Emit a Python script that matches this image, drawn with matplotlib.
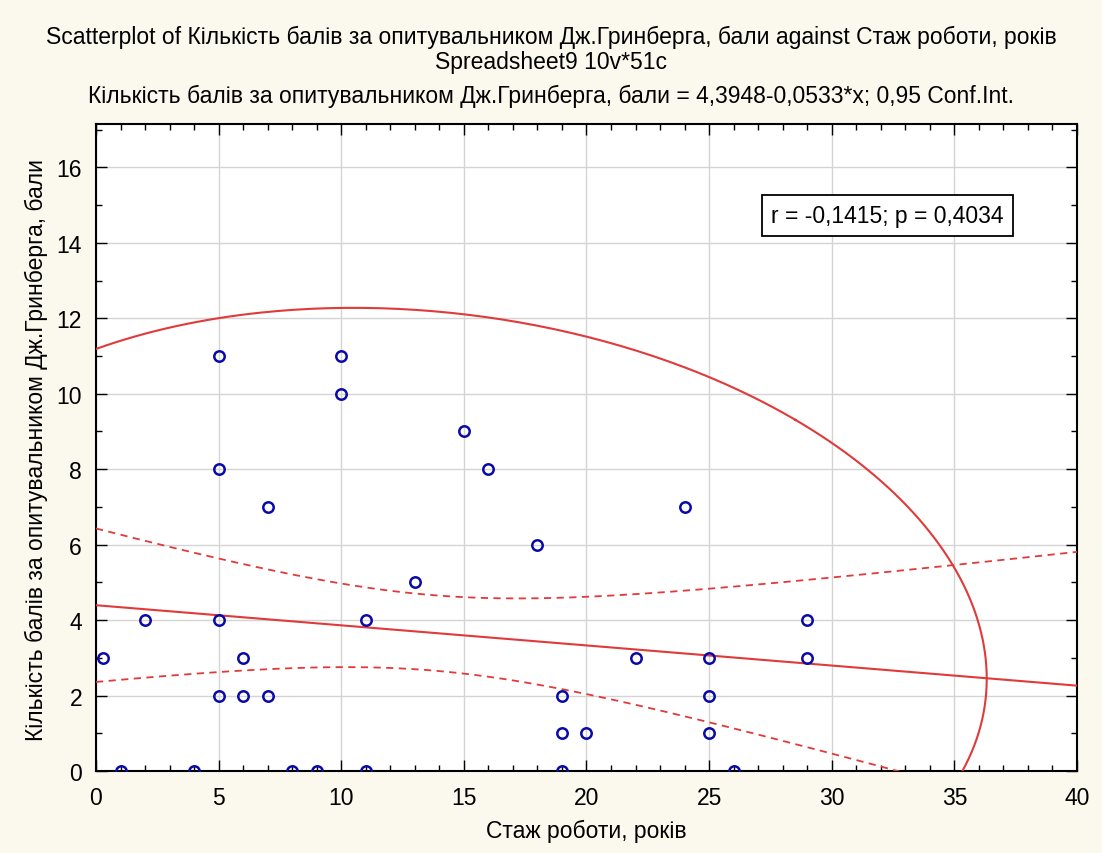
import numpy as np
import matplotlib
matplotlib.use("Agg")
import matplotlib.pyplot as plt
from matplotlib.ticker import MultipleLocator

plt.rcParams['font.family'] = ['Liberation Sans', 'DejaVu Sans']

# experience (years) vs Greenberg questionnaire score
staj = [0.3, 1, 2, 4, 5, 5, 5, 5, 6, 6, 7, 7, 8, 9, 10, 10, 11, 11,
        13, 15, 16, 18, 19, 19, 19, 20, 22, 24, 25, 25, 25, 26, 29, 29]
baly = [3, 0, 4, 0, 11, 8, 4, 2, 3, 2, 7, 2, 0, 0, 11, 10, 4, 0,
        5, 9, 8, 6, 2, 1, 0, 1, 3, 7, 3, 2, 1, 0, 4, 3]

# regression and ellipse parameters from the reference
intercept = 4.3948
slope = -0.0533
r_val = -0.1415
p_val = 0.4034
n_cases = 51
mean_x = 13.7
sd_x = 7.8
sd_y = 2.97
resid_sd = 3.55
t_crit = 2.01
ell_k = 2.9

mean_y = intercept + slope * mean_x

title_lines = [
    "Scatterplot of Кількість балів за опитувальником Дж.Гринберга, бали against Стаж роботи, років",
    "Spreadsheet9 10v*51c",
    "Кількість балів за опитувальником Дж.Гринберга, бали = 4,3948-0,0533*x; 0,95 Conf.Int.",
]
xlabel = "Стаж роботи, років"
ylabel = "Кількість балів за опитувальником Дж.Гринберга, бали"

bg = "#fbf8ee"
red = "#e03a3a"
fs = 16.5

fig = plt.figure(figsize=(11.02, 8.54), dpi=100, facecolor=bg)
ax = fig.add_axes([0.0871, 0.0960, 0.8902, 0.7576])
ax.set_facecolor("white")

xs = np.linspace(0, 40, 400)
fit = intercept + slope * xs
sxx = (n_cases - 1) * sd_x ** 2
hw = t_crit * resid_sd * np.sqrt(1.0 / n_cases + (xs - mean_x) ** 2 / sxx)

ax.plot(xs, fit, color=red, lw=1.5, zorder=3)
ax.plot(xs, fit + hw, color=red, lw=1.3, ls=(0, (4, 3)), zorder=3)
ax.plot(xs, fit - hw, color=red, lw=1.3, ls=(0, (4, 3)), zorder=3)

# 0.95 ellipse
th = np.linspace(0, 2 * np.pi, 600)
a = np.sqrt(1 + r_val)
b = np.sqrt(1 - r_val)
u = (a * np.cos(th) + b * np.sin(th)) / np.sqrt(2)
v = (a * np.cos(th) - b * np.sin(th)) / np.sqrt(2)
ex = mean_x + ell_k * sd_x * u
ey = mean_y + ell_k * sd_y * v
ax.plot(ex, ey, color=red, lw=1.5, zorder=3)

ax.plot(staj, baly, ls="none", marker="o", ms=7.5, mfc="none", mec="#0a0aa8",
        mew=1.8, zorder=4)

ax.set_xlim(0, 40)
ax.set_ylim(0, 17.15)
ax.xaxis.set_major_locator(MultipleLocator(5))
ax.xaxis.set_minor_locator(MultipleLocator(1))
ax.yaxis.set_major_locator(MultipleLocator(2))
ax.yaxis.set_minor_locator(MultipleLocator(1))
ax.tick_params(which="both", direction="in", top=True, right=True, labelsize=fs, width=1)
ax.tick_params(which="major", length=8)
ax.tick_params(which="minor", length=4)
ax.tick_params(axis="x", pad=11)
ax.tick_params(axis="y", pad=10)
ax.grid(True, which="major", color="#d4d4d4", lw=1)
for s in ax.spines.values():
    s.set_linewidth(1.5)

ax.set_xlabel(xlabel, fontsize=fs)
ax.xaxis.set_label_coords(0.5, -(820 - 772) / 647, transform=ax.transAxes)
ax.set_ylabel(ylabel, fontsize=fs)
ax.yaxis.set_label_coords(-(96 - 48) / 981, (772 - 450) / 647, transform=ax.transAxes)

for line, ypix in zip(title_lines, [37, 62, 96]):
    fig.text(0.5, 1 - ypix / 854, line, ha="center", va="center", fontsize=fs)

ax.text(0.807, 0.859, f"r = {r_val:.4f}; p = {p_val:.4f}".replace(".", ","),
        transform=ax.transAxes, ha="center", va="center", fontsize=fs,
        bbox=dict(boxstyle="square,pad=0.4", fc="white", ec="black", lw=1.3), zorder=5)

fig.savefig("out.png", dpi=100, facecolor=bg)
